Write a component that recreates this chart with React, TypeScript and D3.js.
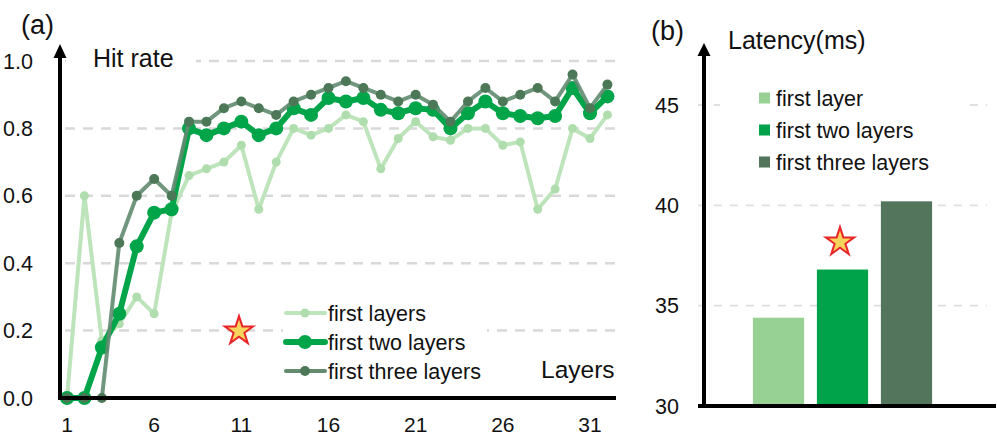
import React from "react";
import * as d3 from "d3";

const layers = d3.range(1, 33);
const firstLayer = [0, 0.6, 0.17, 0.22, 0.3, 0.25, 0.55, 0.66, 0.68, 0.7, 0.75, 0.56, 0.7, 0.8, 0.78, 0.8, 0.84, 0.82, 0.68, 0.77, 0.82, 0.775, 0.765, 0.8, 0.8, 0.75, 0.76, 0.56, 0.62, 0.8, 0.77, 0.84];
const firstTwo = [0, 0, 0.15, 0.25, 0.45, 0.55, 0.56, 0.8, 0.78, 0.8, 0.82, 0.78, 0.8, 0.86, 0.84, 0.89, 0.88, 0.89, 0.855, 0.845, 0.86, 0.855, 0.8, 0.845, 0.88, 0.845, 0.837, 0.83, 0.837, 0.92, 0.845, 0.895];
const firstThree = [0, 0, 0, 0.46, 0.6, 0.65, 0.6, 0.82, 0.82, 0.86, 0.88, 0.86, 0.84, 0.88, 0.9, 0.92, 0.94, 0.92, 0.9, 0.88, 0.9, 0.87, 0.82, 0.88, 0.92, 0.88, 0.9, 0.92, 0.88, 0.96, 0.86, 0.93];
const hitTicks = [0, 0.2, 0.4, 0.6, 0.8, 1.0];
const layerTicks = [1, 6, 11, 16, 21, 26, 31];

const barCats = ["first layer", "first two layers", "first three layers"];
const latency = [34.4, 36.8, 40.2];
const latTicks = [30, 35, 40, 45];
const lineLegend = ["first layers", "first two layers", "first three layers"];

const FONT = "Arial, 'Liberation Sans', sans-serif";

export default function App() {
  // Panel (a)
  const x = d3.scaleLinear().domain([1, 31]).range([67, 590]);
  const y = d3.scaleLinear().domain([0, 1]).range([398, 61]);
  const series = [
    { vals: firstLayer, line: "#bde4bb", dot: "#b0ddad", lw: 4, r: 4.5 },
    { vals: firstTwo, line: "#00a54a", dot: "#00a54a", lw: 6, r: 7 },
    { vals: firstThree, line: "#628b70", dot: "#4d7858", lw: 4, r: 5 },
  ];
  const lineGen = d3.line<number>().x((_, i) => x(layers[i])).y((v) => y(v));

  // Panel (b)
  const xb = d3.scaleBand<string>().domain(barCats).range([746.5, 938.5]).paddingInner(0.2).paddingOuter(0.1);
  const yb = d3.scaleLinear().domain([30, 45]).range([406, 105]);
  const barColors = ["#98d194", "#00a24a", "#52755b"];

  const star = d3.symbol().type(d3.symbolStar).size(250)();

  return (
    <svg width={997} height={439} style={{ position: "absolute", left: 0, top: 0, background: "#fff" }} fontFamily={FONT}>
      <rect width={997} height={439} fill="#fff" />
      {/* ===== Panel (a) ===== */}
      {hitTicks.filter((t) => t > 0).map((t) => (
        <line key={t} x1={65} x2={615} y1={y(t)} y2={y(t)} stroke="#d9d9d9" strokeWidth={2.5} strokeDasharray="10,8" />
      ))}
      <rect x={66} y={40} width={130} height={40} fill="#fff" />
      {series.map((s, k) => (
        <g key={k}>
          <path d={lineGen(s.vals) || ""} fill="none" stroke={s.line} strokeWidth={s.lw} strokeLinejoin="round" opacity={k === 2 ? 0.9 : 1} />
          {s.vals.map((v, i) => (
            <circle key={i} cx={x(layers[i])} cy={y(v)} r={s.r} fill={s.dot} />
          ))}
        </g>
      ))}
      {/* legend (a) */}
      <rect x={283} y={298} width={204} height={86} fill="#fff" />
      {lineLegend.map((name, i) => {
        const s = series[i];
        const cy = 313 + i * 29;
        return (
          <g key={name}>
            <line x1={286} x2={325} y1={cy} y2={cy} stroke={s.line} strokeWidth={s.lw} strokeLinecap="round" />
            <circle cx={305} cy={cy} r={s.r} fill={s.dot} />
            <text x={328} y={cy + 7.5} fontSize={21.5} fill="#111">{name}</text>
          </g>
        );
      })}
      <path d={star} transform={`translate(239,331)`} fill="#f7d45c" stroke="#e8262a" strokeWidth={2} />
      {/* axes (a) */}
      <line x1={58} x2={616} y1={398} y2={398} stroke="#000" strokeWidth={4} />
      <line x1={60} x2={60} y1={400} y2={56} stroke="#000" strokeWidth={4} />
      <path d="M60,44 L66.5,58 L53.5,58 Z" fill="#000" />
      {hitTicks.map((t) => (
        <text key={t} x={33} y={y(t) + 7.5} fontSize={21.5} textAnchor="end" fill="#111">{t.toFixed(1)}</text>
      ))}
      {layerTicks.map((t) => (
        <text key={t} x={x(t)} y={432} fontSize={21} textAnchor="middle" fill="#111">{t}</text>
      ))}
      <text x={93} y={67} fontSize={25} fill="#111">Hit rate</text>
      <text x={541} y={378} fontSize={24.5} fill="#111">Layers</text>
      <text x={21} y={34} fontSize={27} fill="#111">(a)</text>

      {/* ===== Panel (b) ===== */}
      {latTicks.filter((t) => t > 30).map((t) => (
        <line key={t} x1={698} x2={987} y1={yb(t)} y2={yb(t)} stroke="#e0e0e0" strokeWidth={1.8} strokeDasharray="8,8" />
      ))}
      <rect x={720} y={80} width={246} height={95} fill="#fff" />
      {barCats.map((c, i) => (
        <rect key={c} x={xb(c)} y={yb(latency[i])} width={xb.bandwidth()} height={yb(30) - yb(latency[i])} fill={barColors[i]} />
      ))}
      {barCats.map((c, i) => {
        const cy = 98 + i * 32;
        return (
          <g key={c}>
            <rect x={759} y={cy - 5.5} width={11} height={11} fill={barColors[i]} />
            <text x={776} y={cy + 7.5} fontSize={21.5} fill="#111">{c}</text>
          </g>
        );
      })}
      <path d={star} transform={`translate(840,242)`} fill="#f7d45c" stroke="#e8262a" strokeWidth={2} />
      <line x1={698} x2={996} y1={406} y2={406} stroke="#000" strokeWidth={4} />
      <line x1={704} x2={704} y1={408} y2={54} stroke="#000" strokeWidth={4} />
      <path d="M704,43 L710.5,56 L697.5,56 Z" fill="#000" />
      {latTicks.map((t) => (
        <text key={t} x={679} y={yb(t) + 7.5} fontSize={21.5} textAnchor="end" fill="#111">{t}</text>
      ))}
      <text x={728} y={49} fontSize={25} fill="#111">Latency(ms)</text>
      <text x={651} y={40} fontSize={27} fill="#111">(b)</text>
    </svg>
  );
}
